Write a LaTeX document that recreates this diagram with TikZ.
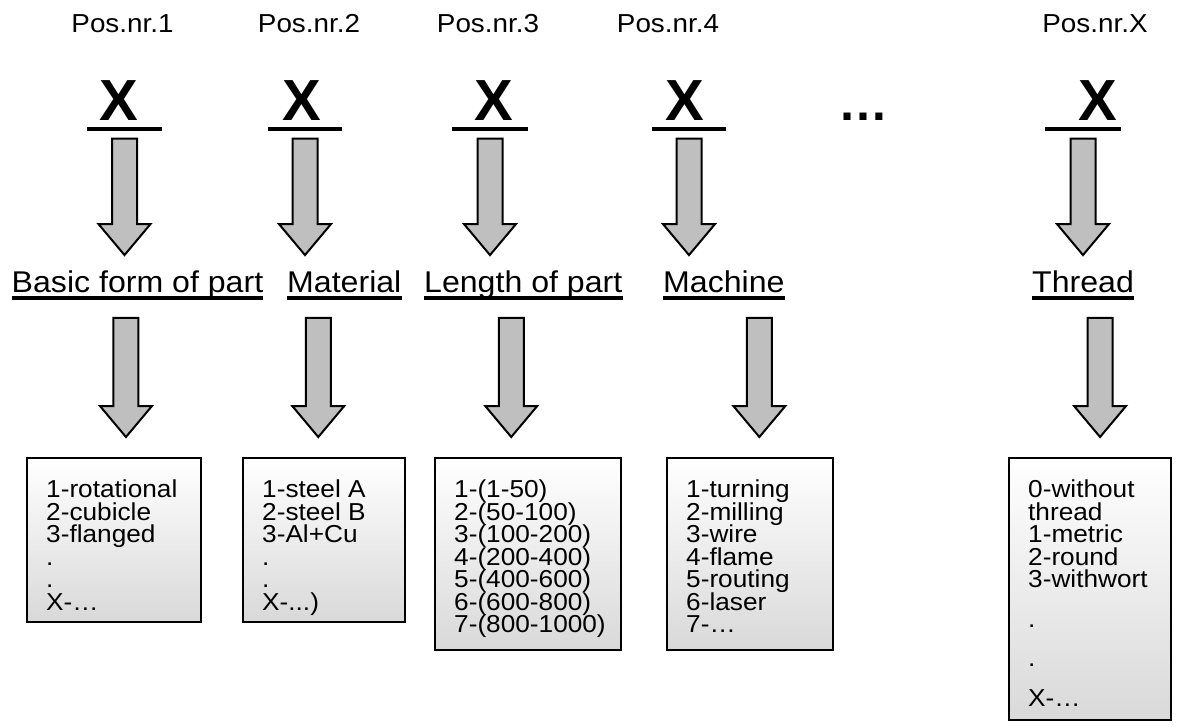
\documentclass[tikz,border=0pt]{standalone}
\usepackage{fontspec}
\setmainfont{Liberation Sans}[FakeStretch=1.07]
\newfontfamily\bigfont{Liberation Sans}
\usetikzlibrary{calc}

% hollow grey arrow pointing down: shaft top #1, tip #2
\newcommand{\fatarrow}[2]{%
  \path #1 coordinate (arrowtop) #2 coordinate (arrowtip);
  \filldraw[fatarrow] let \p1 = (arrowtop), \p2 = (arrowtip) in
    (\x1-12.5pt,\y1) -- (\x1+12.5pt,\y1) -- (\x1+12.5pt,\y2+31pt)
    -- (\x1+26pt,\y2+31pt) -- (\x1,\y2) -- (\x1-26pt,\y2+31pt)
    -- (\x1-12.5pt,\y2+31pt) -- cycle;}

\tikzset{
    poslabel/.style={font=\fontsize{26}{26}\selectfont, inner sep=0pt, anchor=base},
    bigx/.style={font=\bigfont\bfseries\fontsize{58}{58}\selectfont, inner sep=0pt, anchor=base},
    xbar/.style={fill=black, minimum height=3.5pt, inner sep=0pt, outer sep=0pt},
    heading/.style={font=\fontsize{30}{30}\selectfont, inner sep=0pt, anchor=base west},
    hdline/.style={line width=3.5pt},
    fatarrow/.style={draw=black, line width=2pt, fill=black!25},
    listbox/.style={draw=black, line width=1.6pt, top color=white, bottom color=black!15,
        anchor=north west, inner sep=0pt, outer sep=0pt},
    listtext/.style={anchor=north west, align=left, inner sep=0pt,
        font={\fontsize{24.5}{22.5}\selectfont\lineskiplimit=-20pt}}
}

\begin{document}
\begin{tikzpicture}[x=1pt, y=-1pt]
    \useasboundingbox (0,0) rectangle (1181,727);

    % position numbers
    \node[poslabel] (pos1) at (122.5,33) {Pos.nr.1};
    \node[poslabel] (pos2) at (309,33)   {Pos.nr.2};
    \node[poslabel] (pos3) at (488,33)   {Pos.nr.3};
    \node[poslabel] (pos4) at (668,33)   {Pos.nr.4};
    \node[poslabel] (pos5) at (1095,33)  {Pos.nr.X};

    % code letters with their bars
    \node[bigx] (x1) at (119,121)  {X};
    \node[bigx] (x2) at (302,121)  {X};
    \node[bigx] (x3) at (494,121)  {X};
    \node[bigx] (x4) at (685,121)  {X};
    \node[bigx] (x5) at (1098,121) {X};
    \node[bigx, font=\bigfont\bfseries\fontsize{50}{50}\selectfont] (gap) at (863,121) {…};

    \node[xbar, minimum width=75pt] (bar1) at (124.5,129) {};
    \node[xbar, minimum width=74pt] (bar2) at (305,129)   {};
    \node[xbar, minimum width=76pt] (bar3) at (490,129)   {};
    \node[xbar, minimum width=74pt] (bar4) at (689,129)   {};
    \node[xbar, minimum width=76pt] (bar5) at (1083,129)  {};

    % headings
    \node[heading] (hd1) at (11.5,293) {Basic form of part};
    \node[heading] (hd2) at (287,293)  {Material};
    \node[heading] (hd3) at (424,293)  {Length of part};
    \node[heading] (hd4) at (663,293)  {Machine};
    \node[heading] (hd5) at (1032,293) {Thread};
    \foreach \n in {1,...,5}
        \draw[hdline] ([yshift=-5pt]hd\n.base west) -- ([yshift=-5pt]hd\n.base east);

    % value lists
    \node[listbox, minimum width=174pt, minimum height=164pt] (bx1) at (27,458)   {};
    \node[listbox, minimum width=162pt, minimum height=164pt] (bx2) at (243,458)  {};
    \node[listbox, minimum width=186pt, minimum height=192pt] (bx3) at (435,458)  {};
    \node[listbox, minimum width=166pt, minimum height=192pt] (bx4) at (667,458)  {};
    \node[listbox, minimum width=162pt, minimum height=262pt] (bx5) at (1009,458) {};

    \node[listtext] (tx1) at ([xshift=19pt,yshift=-22pt]bx1.north west)
        {1-rotational\\2-cubicle\\3-flanged\\.\\.\\X-…};
    \node[listtext] (tx2) at ([xshift=19pt,yshift=-22pt]bx2.north west)
        {1-steel A\\2-steel B\\3-Al+Cu\\.\\.\\X-...)};
    \node[listtext] (tx3) at ([xshift=19pt,yshift=-22pt]bx3.north west)
        {1-(1-50)\\2-(50-100)\\3-(100-200)\\4-(200-400)\\5-(400-600)\\6-(600-800)\\7-(800-1000)};
    \node[listtext] (tx4) at ([xshift=19pt,yshift=-22pt]bx4.north west)
        {1-turning\\2-milling\\3-wire\\4-flame\\5-routing\\6-laser\\7-…};
    \node[listtext] (tx5) at ([xshift=19pt,yshift=-22pt]bx5.north west)
        {0-without\\thread\\1-metric\\2-round\\3-withwort\\[17pt].\\[17pt].\\[17pt]X-…};

    % arrows: bar -> heading -> list
    \foreach \n in {1,...,5}{
        \fatarrow{([yshift=-8pt]bar\n.south)}{([yshift=16pt]hd\n.north)}
    }
    \foreach \n/\dx in {1/-11.5, 2/-26, 3/-12, 4/35.5, 5/17}{
        \fatarrow{([xshift=\dx pt,yshift=-25pt]hd\n.base)}{([yshift=21pt]bx\n.north)}
    }
\end{tikzpicture}
\end{document}
